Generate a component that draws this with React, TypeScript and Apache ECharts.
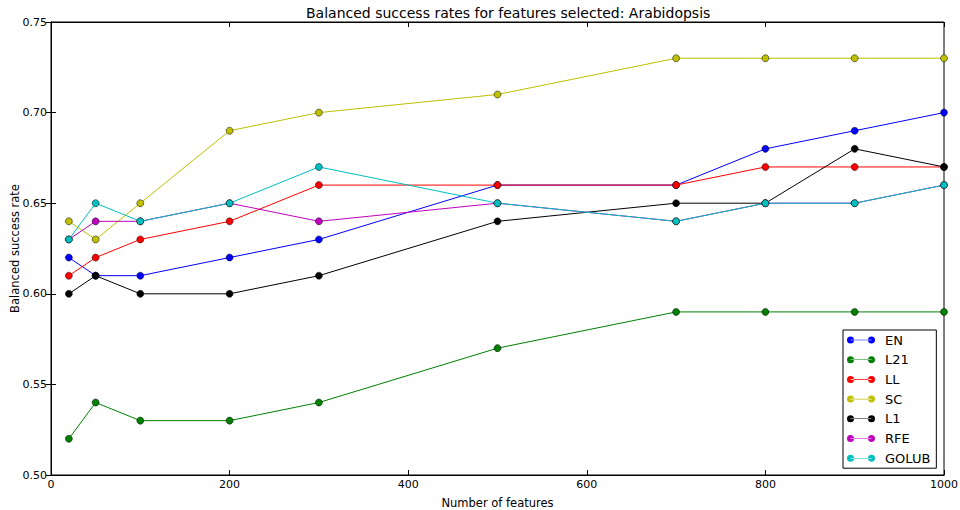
import React, { useEffect, useRef } from "react";
import * as echarts from "echarts";

const xValues = [20, 50, 100, 200, 300, 500, 700, 800, 900, 1000];
const seriesNames = ["EN", "L21", "LL", "SC", "L1", "RFE", "GOLUB"];
const seriesColors = ["#0000ff", "#008000", "#ff0000", "#bfbf00", "#000000", "#bf00bf", "#00bfbf"];
const EN = [0.62, 0.61, 0.61, 0.62, 0.63, 0.66, 0.66, 0.68, 0.69, 0.70];
const L21 = [0.52, 0.54, 0.53, 0.53, 0.54, 0.57, 0.59, 0.59, 0.59, 0.59];
const LL = [0.61, 0.62, 0.63, 0.64, 0.66, 0.66, 0.66, 0.67, 0.67, 0.67];
const SC = [0.64, 0.63, 0.65, 0.69, 0.70, 0.71, 0.73, 0.73, 0.73, 0.73];
const L1 = [0.60, 0.61, 0.60, 0.60, 0.61, 0.64, 0.65, 0.65, 0.68, 0.67];
const RFE = [0.63, 0.64, 0.64, 0.65, 0.64, 0.65, 0.64, 0.65, 0.65, 0.66];
const GOLUB = [0.63, 0.65, 0.64, 0.65, 0.67, 0.65, 0.64, 0.65, 0.65, 0.66];
const seriesValues = [EN, L21, LL, SC, L1, RFE, GOLUB];

const title = "Balanced success rates for features selected: Arabidopsis";
const xName = "Number of features";
const yName = "Balanced success rate";

const FONT = "DejaVu Sans";
const legendIcon =
  "path://M0,3.5a3.5,3.5 0 1,0 7,0a3.5,3.5 0 1,0 -7,0Z M3.5,3.2L24.5,3.2L24.5,3.8L3.5,3.8Z M21,3.5a3.5,3.5 0 1,0 7,0a3.5,3.5 0 1,0 -7,0Z";

export default function App() {
  const ref = useRef<HTMLDivElement>(null);
  useEffect(() => {
    if (!ref.current) return;
    const chart = echarts.init(ref.current, undefined, { renderer: "svg" });
    const tickStyle = { show: true, inside: true, length: 5, lineStyle: { color: "#000" } };
    chart.setOption({
      animation: false,
      backgroundColor: "#fff",
      title: {
        text: title,
        left: 301,
        top: 1,
        textStyle: { fontFamily: FONT, fontSize: 14, fontWeight: "normal", color: "#000" },
      },
      grid: {
        left: 51,
        right: 16,
        top: 22,
        bottom: 35,
        outerBoundsMode: "none",
        containLabel: false,
        show: true,
        borderColor: "#000",
        borderWidth: 1,
        backgroundColor: "transparent",
      },
      legend: {
        orient: "vertical",
        left: 843,
        top: 330,
        data: seriesNames,
        icon: legendIcon,
        itemWidth: 28,
        itemHeight: 7,
        itemGap: 5.7,
        padding: [3, 6, 3, 4],
        borderColor: "#000",
        borderWidth: 1,
        backgroundColor: "#fff",
        itemStyle: { borderWidth: 0 },
        textStyle: {
          fontFamily: FONT,
          fontSize: 13,
          lineHeight: 14,
          color: "#000",
          padding: [0, 0, 0, 5],
        },
      },
      xAxis: [
        {
          type: "value",
          min: 0,
          max: 1000,
          interval: 200,
          name: xName,
          nameLocation: "middle",
          nameGap: 22,
          nameMoveOverlap: false,
          nameTextStyle: { fontFamily: FONT, fontSize: 11.5, color: "#000" },
          axisLine: { show: true, lineStyle: { color: "#000" } },
          axisTick: tickStyle,
          axisLabel: {
            fontFamily: FONT,
            fontSize: 11,
            color: "#000",
            margin: 4,
            formatter: (v: number) => String(v),
          },
          splitLine: { show: false },
        },
        {
          type: "value",
          position: "top",
          min: 0,
          max: 1000,
          interval: 200,
          axisLine: { show: true, lineStyle: { color: "#000" } },
          axisTick: tickStyle,
          axisLabel: { show: false },
          splitLine: { show: false },
        },
      ],
      yAxis: [
        {
          type: "value",
          min: 0.5,
          max: 0.75,
          interval: 0.05,
          name: yName,
          nameLocation: "middle",
          nameGap: 30,
          nameMoveOverlap: false,
          nameTextStyle: { fontFamily: FONT, fontSize: 11.5, color: "#000" },
          axisLine: { show: true, lineStyle: { color: "#000" } },
          axisTick: tickStyle,
          axisLabel: {
            fontFamily: FONT,
            fontSize: 11,
            color: "#000",
            margin: 4,
            formatter: (v: number) => v.toFixed(2),
          },
          splitLine: { show: false },
        },
        {
          type: "value",
          position: "right",
          min: 0.5,
          max: 0.75,
          interval: 0.05,
          axisLine: { show: true, lineStyle: { color: "#000" } },
          axisTick: tickStyle,
          axisLabel: { show: false },
          splitLine: { show: false },
        },
      ],
      series: seriesNames.map((name, i) => ({
        name,
        type: "line",
        xAxisIndex: 0,
        yAxisIndex: 0,
        data: xValues.map((x, j) => [x, seriesValues[i][j]]),
        symbol: "circle",
        symbolSize: 7,
        showSymbol: true,
        color: seriesColors[i],
        lineStyle: { width: 1, color: seriesColors[i] },
        itemStyle: { color: seriesColors[i], borderColor: "#000", borderWidth: 0.5 },
        emphasis: { disabled: true },
      })),
    });
    return () => chart.dispose();
  }, []);
  return <div ref={ref} style={{ width: 960, height: 510, position: "absolute", left: 0, top: 0 }} />;
}
